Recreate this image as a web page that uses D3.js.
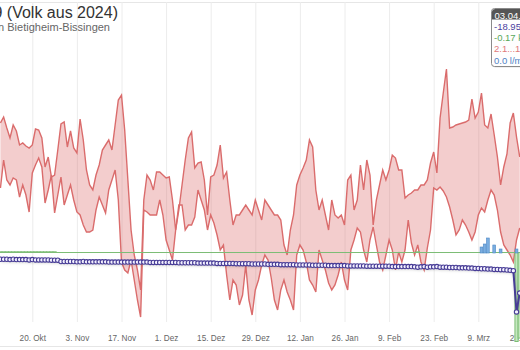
<!DOCTYPE html>
<html><head><meta charset="utf-8">
<script src="https://cdn.jsdelivr.net/npm/d3@7"></script>
<style>
html,body{margin:0;padding:0;background:#fff;overflow:hidden}
svg{display:block;font-family:"Liberation Sans",Arial,Helvetica,sans-serif}
</style></head><body><svg id="c" width="520" height="350"></svg>
<script>
// ---- data ----
const startDate = "2024-10-10"; // first visible day
const tMax = [12.9,13.5,12.4,11.4,12.7,12.1,10.7,10.9,10.6,10.4,
 10.7,12.3,12.2,11.4,8.5,9.5,7.5,7.7,10.2,12.8,
 13.0,10.5,12.1,10.4,9.9,13.3,11.2,8.2,6.7,6.2,
 7.7,8.7,10.2,10.7,11.2,10.2,12.7,15.2,15.7,12.2,
 7.2,2.2,-0.3,-1.8,-3.8,5.2,7.7,7.2,6.2,8.0,
 8.0,7.7,7.4,7.5,5.2,2.2,4.2,6.7,9.2,11.4,
 12.0,8.4,8.9,9.0,7.2,3.7,7.5,7.7,8.7,10.7,
 7.4,8.0,5.2,2.7,3.7,3.7,4.2,4.7,4.2,3.7,
 5.2,4.2,3.2,5.2,4.7,4.2,3.7,3.7,3.2,0.7,
 -0.3,2.2,3.7,6.7,7.7,8.4,9.2,11.2,10.5,6.2,
 4.2,5.2,3.7,2.2,5.2,3.7,3.4,3.7,2.7,7.2,
 7.7,4.2,5.2,8.7,6.2,9.2,7.7,2.7,5.2,6.7,
 8.2,7.2,8.2,9.7,9.4,8.2,8.2,5.4,5.7,5.9,
 6.2,6.2,6.7,6.7,7.2,8.9,10.0,7.9,13.4,15.9,
 18.3,12.4,12.5,12.7,12.8,12.9,13.0,13.2,15.3,13.4,
 14.0,15.9,12.7,12.4,13.8,11.7,9.5,6.7,8.5,9.8,
 12.9,13.9,11.5,9.5];
const tMin = [6.4,9.2,7.2,6.7,7.4,7.2,5.5,6.7,5.7,4.0,
 7.9,8.7,9.4,8.5,4.9,6.2,7.7,3.9,5.7,7.5,
 4.7,5.7,6.7,5.2,4.0,3.7,2.7,2.0,2.0,2.2,
 4.2,5.5,4.7,3.9,6.2,7.2,8.2,5.2,-1.0,-1.8,
 -2.1,-0.8,-2.8,-4.8,-6.5,4.2,4.0,3.7,3.7,3.7,
 5.2,3.7,1.2,0.2,-0.8,2.2,4.7,4.7,2.2,2.7,
 2.7,3.5,6.2,5.2,4.2,2.2,3.7,2.9,1.7,0.2,
 0.7,-2.3,-4.8,-2.8,-3.3,-5.3,-4.3,-1.3,-4.8,-6.3,
 -3.8,-2.8,-1.3,-0.3,-0.8,-2.6,-4.8,-5.8,-3.8,-2.8,
 -4.0,-4.8,-5.8,-0.3,0.7,0.2,-1.0,-2.8,-3.3,-4.0,
 0.2,-0.8,-1.8,-3.1,-3.8,-3.3,-2.3,-1.0,-2.8,-3.8,
 0.2,1.2,2.4,2.0,0.2,-1.0,1.2,2.5,0.7,-1.0,
 -1.8,-0.3,1.2,0.2,-1.8,0.0,-1.0,0.2,3.2,0.9,
 -0.3,0.7,-1.0,-1.8,0.4,2.2,6.4,6.2,6.5,6.1,
 5.5,4.5,3.2,1.7,2.2,3.2,2.7,2.0,1.2,2.0,
 3.7,4.4,4.0,5.2,6.2,5.7,4.2,2.0,0.7,0.2,
 -0.3,-1.0,1.2,2.4];
const weight = [-2.3,-2.3,-2.3,-2.4,-2.3,-2.4,-2.4,-2.4,-2.4,-2.5,-2.4,-2.5,-2.5,-2.5,-2.5,-2.5,-2.6,-2.6,-2.6,
 -3.0,-3.0,-3.0,-3.0,-3.0,-3.1,-3.1,-3.0,-3.1,-3.1,-3.1,-3.1,-3.1,-3.1,-3.1,-3.2,-3.2,-3.2,-3.2,-3.2,-3.2,-3.2,-3.2,-3.2,-3.2,-3.2,-3.2,-3.2,-3.3,-3.3,-3.3,-3.3,-3.3,-3.3,-3.3,
 -3.3,-3.3,-3.4,-3.4,-3.4,-3.4,-3.4,-3.4,-3.5,-3.5,-3.5,-3.5,-3.5,-3.5,-3.6,-3.6,-3.6,-3.6,-3.6,-3.6,-3.7,-3.7,-3.7,-3.7,-3.7,-3.8,-3.8,-3.8,
 -3.8,-3.8,-3.9,-3.9,-3.9,-3.9,-4.0,-4.0,-4.0,-4.0,-4.0,-4.1,-4.1,-4.1,-4.1,-4.1,-4.2,-4.2,-4.2,-4.2,-4.2,-4.3,-4.3,-4.3,-4.3,
 -4.3,-4.3,-4.4,-4.4,-4.4,-4.4,-4.4,-4.4,-4.5,-4.5,-4.5,-4.5,-4.5,-4.5,-4.5,-4.5,-4.6,-4.6,-4.6,-4.6,-4.6,-4.6,-4.6,-4.7,-4.8,-4.7,-4.6,-4.8,-4.7,-4.7,-4.6,
 -4.8,-4.8,-4.8,-4.9,-4.9,-4.9,-5.0,-5.0,-5.0,-5.1,-5.1,-5.2,-5.2,-5.3,-5.3,-5.4,-5.4,-5.5,-5.5,-5.6,-5.6,-5.7,-5.8,-5.9,
 -18.95,-13.0,-12.0];
const weightChange = [0.1,0.1,0.1,0.1,0.1,0.1,0.1,0.1,0.1,0.1,0.1,0.1,0.1,0.1,0.1,0.1,0.1,0.1,
 0,0,0,0,0,0,0,0,0,0,0,0,0,0,0,0,0,0,0,0,0,0,0,0,0,0,0,0,0,0,0,0,0,0,0,0,0,0,0,0,0,0,
 0,0,0,0,0,0,0,0,0,0,0,0,0,0,0,0,0,0,0,0,0,0,0,0,0,0,0,0,0,0,0,0,0,0,0,0,0,0,0,0,
 0,0,0,0,0,0,0,0,0,0,0,0,0,0,0,0,0,0,0,0,0,0,0,0,0,0,0,0,0,0,0,0.1,0,0,0,0,0,0,
 0,0,0,0,0,0,0,0,0,0,0,0,0,0,0,0,0,0,0,0,0,0,0,0,
 -13.0,-12.5];
const rainDays = [151,152,153,155,157,162];
const rainValues = [2.4,3.6,6.0,3.2,1.6,1.6];
const tickDates = ["2024-10-20","2024-11-03","2024-11-17","2024-12-01","2024-12-15","2024-12-29","2025-01-12","2025-01-26","2025-02-09","2025-02-23","2025-03-09","2025-03-23"];
const tickLabels = ["20. Okt","3. Nov","17. Nov","1. Dez","15. Dez","29. Dez","12. Jan","26. Jan","9. Feb","23. Feb","9. Mrz","23. Mrz"];
const titleText = "9 (Volk aus 2024)";
const subtitleText = "in Bietigheim-Bissingen";
const tooltipHead = "03.04.2025";
const tooltipRows = ["-18.95 kg","-0.17 kg","2.1...12.4 °C","0.0 l/m²"];

// ---- scales ----
const svg = d3.select("#c");
const day = i => d3.utcDay.offset(new Date(startDate+"T00:00:00Z"), i);
const x = d3.scaleUtc().domain([new Date("2024-10-20T00:00:00Z"), new Date("2025-03-09T00:00:00Z")]).range([32.3, 478.3]);
const dayW = x(day(1)) - x(day(0));
const yT = d3.scaleLinear().domain([0, 10]).range([252, 152]);
const yW = d3.scaleLinear().domain([0, -10]).range([252, 283.6]);
const yG = d3.scaleLinear().domain([0, -13]).range([252.5, 341.5]);
const yR = d3.scaleLinear().domain([0, 10]).range([253, 228]);

const defs = svg.append("defs");
const f = defs.append("filter").attr("id","sh").attr("x","-5%").attr("y","-50%").attr("width","110%").attr("height","300%");
f.append("feDropShadow").attr("dx",1).attr("dy",1.5).attr("stdDeviation",1.6).attr("flood-color","#000").attr("flood-opacity",0.28);

// top border + bottom line
svg.append("line").attr("x1",0).attr("x2",520).attr("y1",2.5).attr("y2",2.5).attr("stroke","#e6e6e6");
svg.append("line").attr("x1",0).attr("x2",520).attr("y1",346.5).attr("y2",346.5).attr("stroke","#e6e6e6");

// gridlines + labels via axis
const tdates = tickDates.map(s => new Date(s+"T00:00:00Z"));
const grid = svg.append("g").attr("transform","translate(0,322)")
  .call(d3.axisBottom(x).tickValues(tdates).tickSize(-320).tickFormat(""));
grid.select(".domain").remove();
grid.selectAll("line").attr("stroke","#ececec");
const ax = svg.append("g").attr("transform","translate(0,322)")
  .call(d3.axisBottom(x).tickValues(tdates).tickSize(0).tickPadding(13).tickFormat((d,i)=>tickLabels[i]));
ax.select(".domain").remove();
ax.selectAll("text").attr("fill","#666").attr("font-size","8.2px").attr("font-family","Liberation Sans, Arial, sans-serif");

// title
svg.append("text").attr("x",118).attr("y",18).attr("text-anchor","end").attr("fill","#333").attr("font-size","16px").text(titleText);
svg.append("text").attr("x",110).attr("y",31).attr("text-anchor","end").attr("fill","#666").attr("font-size","11px").text(subtitleText);

// temperature range
const tData = tMax.map((v,i)=>({d:day(i), hi:v, lo:tMin[i]}));
svg.append("path").datum(tData)
  .attr("d", d3.area().x(d=>x(d.d)).y0(d=>yT(d.lo)).y1(d=>yT(d.hi)))
  .attr("fill","rgba(217,100,100,0.32)");
svg.append("path").datum(tData).attr("d", d3.line().x(d=>x(d.d)).y(d=>yT(d.hi)))
  .attr("fill","none").attr("stroke","#da6c6c").attr("stroke-width",1.4);
svg.append("path").datum(tData).attr("d", d3.line().x(d=>x(d.d)).y(d=>yT(d.lo)))
  .attr("fill","none").attr("stroke","#da6c6c").attr("stroke-width",1.4);

// green weight change columns
svg.append("g").selectAll("rect").data(weightChange).join("rect")
  .attr("x",(v,i)=>x(day(i))-dayW/2).attr("width",dayW)
  .attr("y",v=>Math.min(yG(0),yG(v))).attr("height",v=>Math.max(0.01,Math.abs(yG(v)-yG(0))))
  .attr("fill","#c5e8bf").attr("stroke","#7dbd76").attr("stroke-width",1);

// rain columns
svg.append("g").selectAll("rect").data(rainValues).join("rect")
  .attr("x",(v,i)=>x(day(rainDays[i]))-1.4).attr("width",2.8)
  .attr("y",v=>yR(v)).attr("height",v=>yR(0)-yR(v))
  .attr("fill","#7aaee0").attr("stroke","#4f88c6").attr("stroke-width",0.6);

// weight line
const wData = weight.map((v,i)=>({d:day(i), v}));
const wg = svg.append("g");
wg.append("path").datum(wData).attr("d", d3.line().x(d=>x(d.d)).y(d=>yW(d.v)))
  .attr("fill","none").attr("stroke","#473c96").attr("stroke-width",2).attr("filter","url(#sh)");
wg.selectAll("circle").data(wData).join("circle")
  .attr("cx",d=>x(d.d)).attr("cy",d=>yW(d.v)).attr("r",2.2)
  .attr("fill","#f4f2ff").attr("stroke","#473c96").attr("stroke-width",1.1);

// tooltip
const tt = svg.append("g").attr("transform","translate(491.5,8.5)");
tt.append("rect").attr("x",1).attr("y",1).attr("width",80).attr("height",58).attr("rx",3).attr("fill","rgba(0,0,0,0.12)");
tt.append("rect").attr("width",80).attr("height",58).attr("rx",3).attr("fill","rgba(255,255,255,0.94)").attr("stroke","#8a8a8a");
tt.append("path").attr("d","M0.5,11 V3 A3,3 0 0 1 3.5,0.5 H80 V11 Z").attr("fill","#555");
tt.append("text").attr("x",3).attr("y",10.3).attr("fill","#fff").attr("font-size","9.5px").text(tooltipHead);
const rowColors = ["#4a3f9e","#5aa85a","#e07a7a","#4e82c4"];
tooltipRows.forEach((r,i)=>{
  tt.append("text").attr("x",2.5).attr("y",21 + i*11.4).attr("fill",rowColors[i]).attr("font-size","9.5px").text(r);
});
</script></body></html>
